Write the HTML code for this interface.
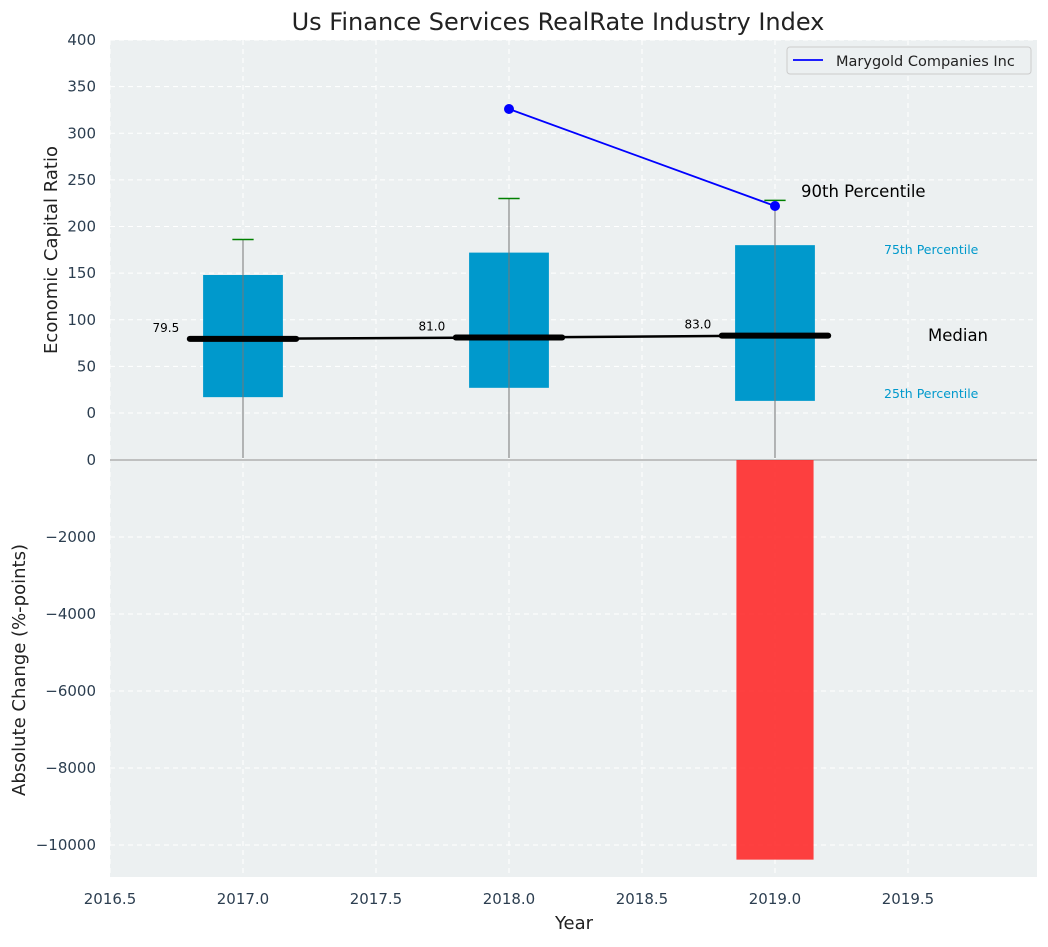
<!DOCTYPE html>
<html><head><meta charset="utf-8"><style>
body{margin:0;background:#fff;font-family:"Liberation Sans","DejaVu Sans",sans-serif}
svg text{font-family:"DejaVu Sans","Liberation Sans",sans-serif}
</style></head><body>
<svg id="c" width="1048" height="942" xmlns="http://www.w3.org/2000/svg"></svg>
<script>
const years=[2017,2018,2019];
const q1=[17,27,13];
const q3=[148,172,180];
const p90=[186,230,228];
const medians=[79.5,81.0,83.0];
const medianLabels=["79.5","81.0","83.0"];
const compYears=[2018,2019];
const compValues=[326,222];
const changeYears=[2019];
const changeValues=[-10380];
const xTicks=[2016.5,2017,2017.5,2018,2018.5,2019,2019.5];
const yTopTicks=[0,50,100,150,200,250,300,350,400];
const yBotTicks=[-10000,-8000,-6000,-4000,-2000,0];

const NS="http://www.w3.org/2000/svg";
const svg=document.getElementById('c');
const L=110,R=1037,T1=40,B1=460,T2=460,B2=877;
const xs=v=>L+(v-2016.5)/(2019.985-2016.5)*(R-L);
const yt=v=>413-v*(373/400);
const yb=v=>460-v*(-385/-10000);
function el(tag,attrs,name,txt){const e=document.createElementNS(NS,tag);for(const k in attrs)e.setAttribute(k,attrs[k]);


if(txt!==undefined)e.textContent=txt;svg.appendChild(e);return e;}
el('rect',{x:L,y:T1,width:R-L,height:B2-T1,fill:'#ecf0f1'},'plot-background');
xTicks.forEach(t=>{el('line',{x1:xs(t),x2:xs(t),y1:T1,y2:B2,stroke:'#fff','stroke-dasharray':'5,4','stroke-width':1},'x-grid-line');
el('text',{x:xs(t),y:904,'font-size':15,'text-anchor':'middle',fill:'#2c3e50'},'x-tick-label',t.toFixed(1));});
yTopTicks.forEach(t=>{el('line',{x1:L,x2:R,y1:yt(t),y2:yt(t),stroke:'#fff','stroke-dasharray':'5,4'},'y-top-grid-line');
el('text',{x:96,y:yt(t)+5,'font-size':15,'text-anchor':'end',fill:'#2c3e50'},'y-top-tick-label',t);});
yBotTicks.forEach(t=>{el('line',{x1:L,x2:R,y1:yb(t),y2:yb(t),stroke:'#fff','stroke-dasharray':'5,4'},'y-bottom-grid-line');
el('text',{x:96,y:yb(t)+5,'font-size':15,'text-anchor':'end',fill:'#2c3e50'},'y-bottom-tick-label',t===0?'0':'\u2212'+Math.abs(t));});
el('line',{x1:L,x2:R,y1:460,y2:460,stroke:'#b0b0b0','stroke-width':1.5},'axes-divider');
years.forEach((y,i)=>{const bw=xs(0.15)-xs(-0.15);
el('rect',{x:xs(y)-bw/2,y:yt(q3[i]),width:bw,height:yt(q1[i])-yt(q3[i]),fill:'#0099cc'},'iqr-box-'+y);
el('line',{x1:xs(y),x2:xs(y),y1:yt(p90[i]),y2:B1-2,stroke:'#777','stroke-width':1},'whisker-'+y);
el('line',{x1:xs(y-0.04),x2:xs(y+0.04),y1:yt(p90[i]),y2:yt(p90[i]),stroke:'green','stroke-width':1.5},'p90-cap-'+y);
});
let pts=years.map((y,i)=>xs(y)+','+yt(medians[i])).join(' ');
el('polyline',{points:pts,fill:'none',stroke:'#000','stroke-width':2.5},'median-trend-line');
years.forEach((y,i)=>{
el('line',{x1:xs(y-0.2),x2:xs(y+0.2),y1:yt(medians[i]),y2:yt(medians[i]),stroke:'#000','stroke-width':6,'stroke-linecap':'round'},'median-bar-'+y);
el('text',{x:xs(y-0.29),y:yt(medians[i])-7,'font-size':12,'text-anchor':'middle',fill:'#000'},'median-label-'+y,medianLabels[i]);});
el('polyline',{points:compYears.map((y,i)=>xs(y)+','+yt(compValues[i])).join(' '),fill:'none',stroke:'blue','stroke-width':1.8},'company-line');
compYears.forEach((y,i)=>el('circle',{cx:xs(y),cy:yt(compValues[i]),r:5,fill:'blue'},'company-point-'+y));
changeYears.forEach((y,i)=>{const bw=xs(0.145)-xs(-0.145);
el('rect',{x:xs(y)-bw/2,y:yb(0),width:bw,height:yb(changeValues[i])-yb(0),fill:'#ff2b2b','fill-opacity':0.9},'change-bar-'+y);});
el('text',{x:801,y:197,'font-size':16.5,fill:'#000'},'p90-annotation','90th Percentile');
el('text',{x:884,y:254,'font-size':12.5,fill:'#0099cc'},'p75-annotation','75th Percentile');
el('text',{x:928,y:341,'font-size':16.5,fill:'#000'},'median-annotation','Median');
el('text',{x:884,y:398,'font-size':12.5,fill:'#0099cc'},'p25-annotation','25th Percentile');
el('rect',{x:787,y:47,width:244,height:27,fill:'#ecf0f1',stroke:'#ccc',rx:3},'legend-box');
el('line',{x1:793,x2:823,y1:60,y2:60,stroke:'blue','stroke-width':1.8},'legend-line');
el('text',{x:836,y:66,'font-size':14.5,fill:'#222'},'legend-entry','Marygold Companies Inc');
el('text',{x:558,y:30,'font-size':24,'text-anchor':'middle',fill:'#222'},'chart-title','Us Finance Services RealRate Industry Index');
el('text',{x:574,y:929,'font-size':18,'text-anchor':'middle',fill:'#222'},'x-axis-title','Year');
el('text',{x:57,y:250,'font-size':18,'text-anchor':'middle',fill:'#222',transform:'rotate(-90 57 250)'},'y-top-axis-title','Economic Capital Ratio');
el('text',{x:25,y:670,'font-size':18,'text-anchor':'middle',fill:'#222',transform:'rotate(-90 25 670)'},'y-bottom-axis-title','Absolute Change (%-points)');
</script>
</body></html>
